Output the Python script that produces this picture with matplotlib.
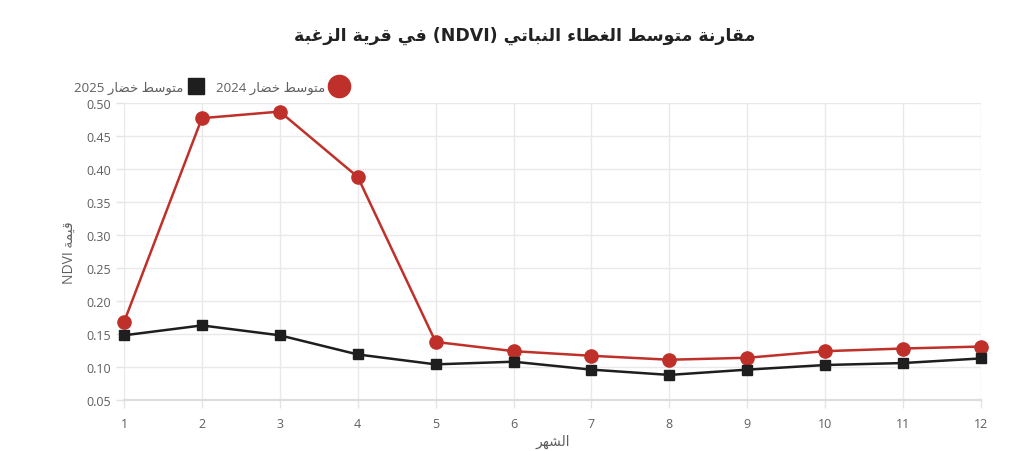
import matplotlib
matplotlib.use("Agg")
import matplotlib.pyplot as plt
from matplotlib.lines import Line2D

plt.rcParams['font.family'] = ['Open Sans', 'DejaVu Sans']

# Werte
monate = [1, 2, 3, 4, 5, 6, 7, 8, 9, 10, 11, 12]
ndvi_2024 = [0.168, 0.477, 0.487, 0.388, 0.138, 0.124, 0.117, 0.111, 0.114, 0.124, 0.128, 0.131]
ndvi_2025 = [0.148, 0.163, 0.148, 0.119, 0.104, 0.108, 0.096, 0.088, 0.096, 0.103, 0.106, 0.113]

titel = "مقارنة متوسط الغطاء النباتي (NDVI) في قرية الزغبة"
name_2024 = "متوسط خضار 2024"
name_2025 = "متوسط خضار 2025"
y_titel = "قيمة NDVI"
x_titel = "الشهر"

# matplotlib kann kein Arabisch verbinden, daher Formen von Hand (Presentation Forms-B)
FORMEN = {
    'ء': ('\uFE80', None, None, None),
    'ا': ('\uFE8D', '\uFE8E', None, None),
    'ب': ('\uFE8F', '\uFE90', '\uFE91', '\uFE92'),
    'ة': ('\uFE93', '\uFE94', None, None),
    'ت': ('\uFE95', '\uFE96', '\uFE97', '\uFE98'),
    'خ': ('\uFEA5', '\uFEA6', '\uFEA7', '\uFEA8'),
    'ر': ('\uFEAD', '\uFEAE', None, None),
    'ز': ('\uFEAF', '\uFEB0', None, None),
    'س': ('\uFEB1', '\uFEB2', '\uFEB3', '\uFEB4'),
    'ش': ('\uFEB5', '\uFEB6', '\uFEB7', '\uFEB8'),
    'ض': ('\uFEBD', '\uFEBE', '\uFEBF', '\uFEC0'),
    'ط': ('\uFEC1', '\uFEC2', '\uFEC3', '\uFEC4'),
    'غ': ('\uFECD', '\uFECE', '\uFECF', '\uFED0'),
    'ف': ('\uFED1', '\uFED2', '\uFED3', '\uFED4'),
    'ق': ('\uFED5', '\uFED6', '\uFED7', '\uFED8'),
    'ل': ('\uFEDD', '\uFEDE', '\uFEDF', '\uFEE0'),
    'م': ('\uFEE1', '\uFEE2', '\uFEE3', '\uFEE4'),
    'ن': ('\uFEE5', '\uFEE6', '\uFEE7', '\uFEE8'),
    'ه': ('\uFEE9', '\uFEEA', '\uFEEB', '\uFEEC'),
    'و': ('\uFEED', '\uFEEE', None, None),
    'ي': ('\uFEF1', '\uFEF2', '\uFEF3', '\uFEF4'),
}


def wort_formen(wort):
    aus = []
    for i, c in enumerate(wort):
        if c not in FORMEN:
            aus.append(c)
            continue
        vor = wort[i - 1] if i > 0 else ''
        nach = wort[i + 1] if i + 1 < len(wort) else ''
        f = FORMEN[c]
        links = vor in FORMEN and FORMEN[vor][2] is not None and f[1] is not None
        rechts = f[2] is not None and nach in FORMEN
        if links and rechts:
            aus.append(f[3])
        elif links:
            aus.append(f[1])
        elif rechts:
            aus.append(f[2])
        else:
            aus.append(f[0])
    return ''.join(aus)


def ar(text):
    woerter = text.split(' ')
    sichtbar = []
    for w in reversed(woerter):
        if any(c in FORMEN for c in w):
            sichtbar.append(wort_formen(w)[::-1])
        else:
            sichtbar.append(w)
    return ' '.join(sichtbar)


rot = "#c0302a"
schwarz = "#1e1e1e"
grau = "#5f5f5f"

fig = plt.figure(figsize=(10.24, 4.52), dpi=100)
ax = fig.add_axes([124 / 1024, 1 - 401 / 452, (981 - 124) / 1024, (401 - 104) / 452])

ax.plot(monate, ndvi_2024, color=rot, lw=1.8, marker='o', ms=9.5, zorder=3, clip_on=False)
ax.plot(monate, ndvi_2025, color=schwarz, lw=1.8, marker='s', ms=7, zorder=3, clip_on=False)

ax.set_xlim(1, 12)
ax.set_ylim(0.05, 0.50)
ax.set_xticks(monate)
ax.set_yticks([0.05 + 0.05 * i for i in range(10)])
ax.yaxis.set_major_formatter(matplotlib.ticker.FormatStrFormatter('%.2f'))
ax.grid(True, color="#e9e9e9", lw=1)
ax.tick_params(colors="#e4e4e4", labelcolor=grau, labelsize=9, length=6, width=1)
ax.tick_params(axis='x', pad=6)
for s in ['top', 'right', 'left']:
    ax.spines[s].set_visible(False)
ax.spines['bottom'].set_color("#dddddd")
ax.spines['bottom'].set_linewidth(1.6)

ax.set_ylabel(ar(y_titel), color=grau, fontsize=10, labelpad=7)
fig.text(0.54, 0.004, ar(x_titel), color=grau, fontsize=10, ha='center', va='bottom')

fig.text(0.512, 0.92, ar(titel), fontsize=12.5, fontweight='bold', color="#222222",
         ha='center', va='center', family=['DejaVu Sans'])

griffe = [
    Line2D([], [], ls='none', marker='s', ms=11, color=schwarz),
    Line2D([], [], ls='none', marker='o', ms=16, color=rot),
]
ax.legend(griffe, [ar(name_2025), ar(name_2024)], ncol=2, markerfirst=False,
          loc='center left', bbox_to_anchor=(62 / 1024, 1 - 88 / 452),
          bbox_transform=fig.transFigure, frameon=False, fontsize=9.5,
          labelcolor=grau, handletextpad=0.4, columnspacing=0.9, handlelength=1.2)

fig.savefig("out.png", dpi=100)
